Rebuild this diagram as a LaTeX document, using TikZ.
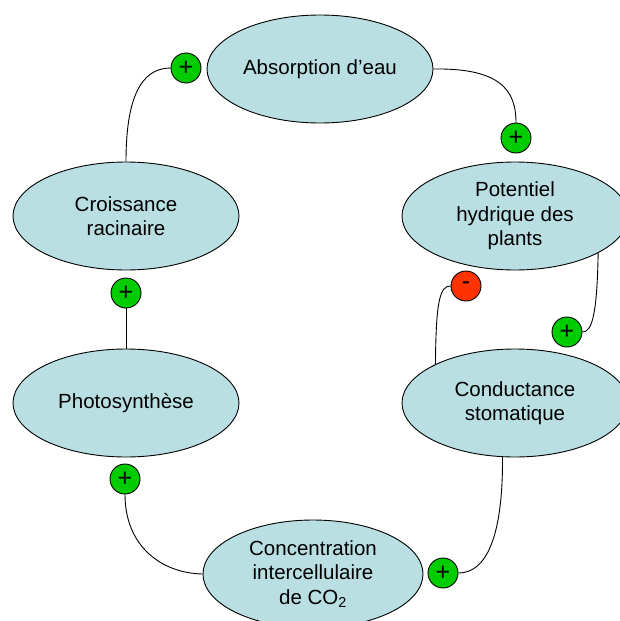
\documentclass[tikz,border=0pt]{standalone}
\usepackage{fontspec}
\setmainfont{Liberation Sans}
\usetikzlibrary{shapes.geometric}
\definecolor{bulle}{RGB}{185,223,227}
\definecolor{vert}{RGB}{0,204,0}
\definecolor{rouge}{RGB}{255,51,0}
\tikzset{
  etat/.style={ellipse, draw, fill=bulle, minimum width=226pt, minimum height=108pt,
    inner sep=0pt, align=center, font=\fontsize{20.5}{24.6}\selectfont},
  signe/.style={circle, draw, minimum size=30pt, inner sep=0pt,
    font=\fontsize{25}{25}\selectfont},
  plus/.style={signe, fill=vert},
  moins/.style={signe, fill=rouge}
}

\begin{document}
\begin{tikzpicture}[x=1pt, y=-1pt, line width=0.9pt]
    \useasboundingbox (0, 0) rectangle (619, 621);

    \node [etat] (absorption) at (320, 69) {Absorption d’eau};
    \node [etat] (croissance) at (126, 216) {Croissance\\racinaire};
    \node [etat] (potentiel) at (515, 216) {Potentiel\\hydrique des\\plants};
    \node [etat] (photo) at (126, 403) {Photosynthèse};
    \node [etat] (conductance) at (515, 403) {Conductance\\stomatique};
    \node [etat, minimum width=220pt] (concentration) at (313, 574)
      {Concentration\\intercellulaire\\de CO\textsubscript{2}};

    \node [plus] (p1) at (186, 68) {+};
    \node [plus] (p2) at (516, 138) {+};
    \node [plus] (p3) at (567, 332) {+};
    \node [moins] (m1) at (466, 286) {-};
    \node [plus] (p4) at (126, 293) {+};
    \node [plus] (p5) at (443, 573) {+};
    \node [plus] (p6) at (125, 479) {+};

    \draw (croissance.north) .. controls (126, 100) and (140, 68) .. (p1.west);
    \draw (absorption.east) .. controls (500, 68) and (516, 90) .. (p2.north);
    \draw (potentiel.-24) .. controls (597, 315) and (592, 332) .. (p3.east);
    \draw (conductance.154) .. controls (436, 300) and (440, 286) .. (m1.west);
    \draw (p4.south) -- (photo.north);
    \draw (conductance.-103) .. controls (503, 540) and (485, 573) .. (p5.east);
    \draw (p6.south) .. controls (125, 545) and (160, 573) .. (concentration.west);
\end{tikzpicture}
\end{document}
